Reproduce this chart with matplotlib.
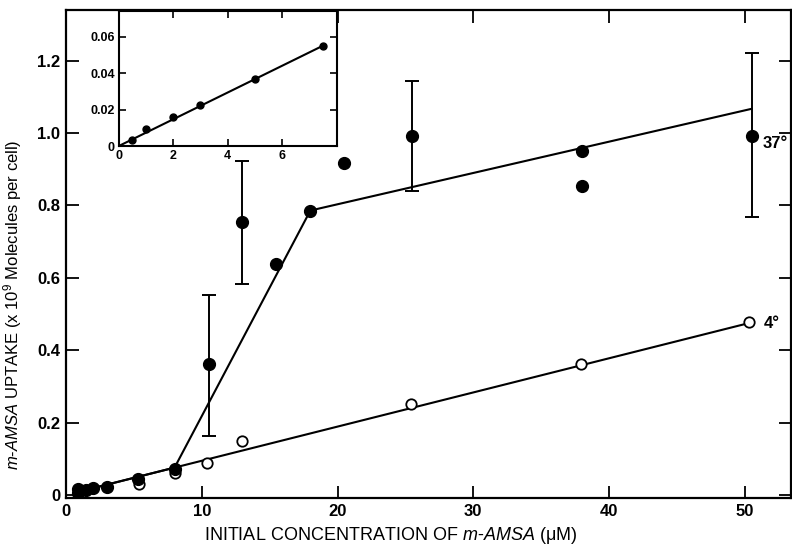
import matplotlib
matplotlib.use("Agg")
import matplotlib.pyplot as plt

plt.rcParams["font.family"] = ["Liberation Sans", "DejaVu Sans"]
plt.rcParams["mathtext.fontset"] = "custom"
plt.rcParams["mathtext.it"] = "Liberation Sans:italic"
plt.rcParams["mathtext.rm"] = "Liberation Sans"

# 37 deg uptake (closed circles)
warm_x = [0.9, 0.9, 1.5, 2.0, 3.0, 5.3, 8.0, 10.5, 13.0, 15.5, 18.0, 20.5, 25.5, 38.0, 38.0, 50.5]
warm_y = [0.018, 0.005, 0.015, 0.02, 0.022, 0.045, 0.072, 0.363, 0.753, 0.638, 0.786, 0.917, 0.993, 0.95, 0.854, 0.993]
# error bars on selected 37 deg points
err_x = [10.5, 13.0, 25.5, 50.5]
err_y = [0.363, 0.753, 0.993, 0.993]
err_lo = [0.164, 0.584, 0.84, 0.769]
err_hi = [0.554, 0.922, 1.143, 1.222]
# 37 deg fitted line (breakpoints)
warm_fit_x = [0.8, 8.0, 18.0, 50.5]
warm_fit_y = [0.008, 0.076, 0.786, 1.067]

# 4 deg uptake (open circles)
cold_x = [5.4, 8.0, 10.4, 13.0, 25.4, 37.9, 50.3]
cold_y = [0.03, 0.06, 0.09, 0.15, 0.251, 0.363, 0.477]
cold_fit_x = [0.8, 50.5]
cold_fit_y = [0.008, 0.477]

# inset: low concentration range
ins_x = [0.5, 1.0, 2.0, 3.0, 5.0, 7.5]
ins_y = [0.0033, 0.0093, 0.0159, 0.0224, 0.0367, 0.0548]
ins_fit_x = [0.0, 7.5]
ins_fit_y = [0.0, 0.055]

fig = plt.figure(figsize=(7.92, 5.51), dpi=100)
ax = fig.add_axes([0.0833, 0.0962, 0.9154, 0.8857])

ax.plot(cold_fit_x, cold_fit_y, color="black", lw=1.5, zorder=2)
ax.plot(warm_fit_x, warm_fit_y, color="black", lw=1.5, zorder=2)
ax.errorbar(err_x, err_y,
            yerr=[[y - lo for y, lo in zip(err_y, err_lo)],
                  [hi - y for y, hi in zip(err_y, err_hi)]],
            fmt="none", ecolor="black", elinewidth=1.4, capsize=5, capthick=1.4, zorder=2)
ax.plot(cold_x, cold_y, "o", ms=7.5, mfc="white", mec="black", mew=1.3, zorder=3)
ax.plot(warm_x, warm_y, "o", ms=8.5, color="black", zorder=4)

ax.text(51.3, 0.97, "37°", fontsize=12, fontweight="bold", va="center")
ax.text(51.4, 0.475, "4°", fontsize=12, fontweight="bold", va="center")

ax.set_xlim(0, 53.4)
ax.set_ylim(-0.008, 1.34)
ax.set_xticks([0, 10, 20, 30, 40, 50])
ax.set_yticks([0, 0.2, 0.4, 0.6, 0.8, 1.0, 1.2])
ax.set_yticklabels(["0", "0.2", "0.4", "0.6", "0.8", "1.0", "1.2"])
ax.tick_params(direction="in", length=9, width=1.3, labelsize=12,
               top=True, right=True, pad=4)
for lab in ax.get_xticklabels() + ax.get_yticklabels():
    lab.set_fontweight("bold")
for sp in ax.spines.values():
    sp.set_linewidth(1.6)

ax.set_xlabel("INITIAL CONCENTRATION OF $m$-$AMSA$ (μM)", fontsize=13)
ax.xaxis.set_label_coords(0.448, -0.055)
ax.set_ylabel(r"$m$-$AMSA$ UPTAKE (x 10$^9$ Molecules per cell)", fontsize=12)
ax.yaxis.set_label_coords(-0.058, 0.395)

# inset
ins = fig.add_axes([0.150, 0.735, 0.275, 0.245])
ins.plot(ins_fit_x, ins_fit_y, color="black", lw=1.5)
ins.plot(ins_x, ins_y, "o", ms=5, color="black")
ins.set_xlim(0, 8.0)
ins.set_ylim(0, 0.074)
ins.set_xticks([0, 2, 4, 6])
ins.set_yticks([0, 0.02, 0.04, 0.06])
ins.set_yticklabels(["0", "0.02", "0.04", "0.06"])
ins.tick_params(direction="in", length=5, width=1.2, labelsize=9,
                top=True, right=True, pad=3)
for lab in ins.get_xticklabels() + ins.get_yticklabels():
    lab.set_fontweight("bold")
for sp in ins.spines.values():
    sp.set_linewidth(1.5)

fig.savefig("out.png", dpi=100)
